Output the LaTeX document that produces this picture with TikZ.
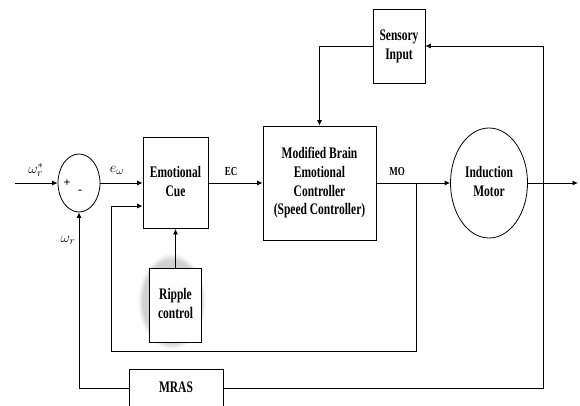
\documentclass[tikz,border=0pt]{standalone}
\usepackage{fontspec}
\setmainfont{Liberation Serif}
\usepackage{graphicx}
\usetikzlibrary{arrows.meta,shapes.geometric,shadows,fadings,calc}
\newcommand{\stx}[2][1.4]{\scalebox{1}[#1]{\begin{tabular}{@{}c@{}}#2\end{tabular}}}
\begin{document}
\begin{tikzpicture}[x=1pt,y=-1pt,line width=0.8pt,
  arr/.style={-{Latex[length=5.5pt,width=5pt]}},
  blk/.style={draw,inner sep=0pt,font=\fontsize{11.5}{13.3}\selectfont\bfseries,align=center},
  circ/.style={draw,ellipse,inner sep=0pt,font=\fontsize{11.5}{13.3}\selectfont\bfseries},
  lbl/.style={font=\fontsize{9}{10}\selectfont\bfseries,inner sep=0pt},
  mlbl/.style={font=\fontsize{15}{15}\selectfont,inner sep=0pt},
  glow/.style={general shadow={shadow scale=1.3,shadow xshift=-3pt,shadow yshift=3pt,fill=black,opacity=0.18,path fading=circle with fuzzy edge 15 percent}}
]
\useasboundingbox (0,0) rectangle (580,405);
\clip (0,0) rectangle (580,405);

% nodes
\node[draw,ellipse,minimum width=42,minimum height=58,inner sep=0pt] (sum) at (79,183) {};
\node[font=\fontsize{12}{12}\selectfont\bfseries,inner sep=0pt] (plus) at (67,183) {+};
\node[font=\fontsize{12}{12}\selectfont\bfseries,inner sep=0pt] (minus) at (80,192) {-};
\node[blk,minimum width=65,minimum height=91] (cue) at (175.5,183) {\stx{Emotional\\Cue}};
\node[blk,minimum width=113,minimum height=114] (mbec) at (319.5,183) {\stx{Modified Brain\\Emotional\\Controller\\(Speed Controller)}};
\node[blk,minimum width=52,minimum height=74] (sensory) at (399,46) {\stx{Sensory\\Input}};
\node[circ,minimum width=77,minimum height=110] (motor) at (489,183) {\stx{Induction\\Motor}};
\node[blk,minimum width=52,minimum height=74,fill=white,glow] (ripple) at (175.5,305) {\stx{Ripple\\control}};
\node[blk,minimum width=94,minimum height=38,anchor=north] (mras) at (176,369) {\stx{MRAS}};

% labels
\node[mlbl] (lwref) at (36,170) {$\omega_r^{*}$};
\node[mlbl] (lerr) at (117,170) {$e_{\omega}$};
\node[mlbl] (lwr) at (68,240) {$\omega_r$};
\node[lbl] (lec) at (231,173) {\stx[1.35]{EC}};
\node[lbl] (lmo) at (397,173) {\stx[1.35]{MO}};

% coordinates
\coordinate (in) at (15,183);
\coordinate (out) at (578,183);
\coordinate (br1) at (543,183);
\coordinate (br2) at (416,183);
\coordinate (c1) at (416,351);
\coordinate (c2) at (111,351);
\coordinate (c3) at (111,206);

% connectors
\draw[arr] (in) -- (sum.west);
\draw[arr] (sum.east) -- (cue.west);
\draw[arr] (cue.east) -- (mbec.west);
\draw[arr] (mbec.east) -- (motor.west);
\draw[arr] (motor.east) -- (out);
\draw[arr] (br1) |- (sensory.east);
\draw[arr] (sensory.west) -| (mbec.north);
\draw (br1) |- (mras.east);
\draw[arr] (mras.west) -| (sum.south);
\draw[arr] (br2) -- (c1) -- (c2) -- (c3) -- (c3 -| cue.west);
\draw[arr] (ripple.north) -- (cue.south);
\end{tikzpicture}
\end{document}
